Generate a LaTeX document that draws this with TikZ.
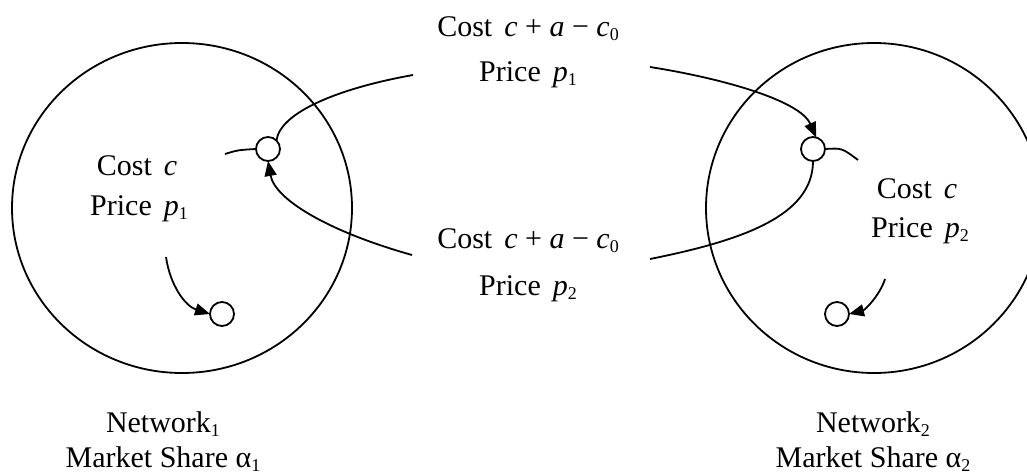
\documentclass[tikz,border=0pt]{standalone}
\usepackage{fontspec}
\setmainfont{Liberation Serif}
\usetikzlibrary{arrows.meta,shapes.geometric}
\newcommand{\lowsub}[1]{\raisebox{-4pt}{\fontsize{18}{18}\selectfont #1}}
\newcommand{\gap}{\hspace{0.4em}}
\begin{document}
\begin{tikzpicture}[x=1pt,y=-1pt,
  lbl/.style={anchor=base,inner sep=0pt,font=\fontsize{30}{36}\selectfont},
  net/.style={draw,ellipse,inner sep=0pt,line width=1.8pt},
  dot/.style={draw,circle,fill=white,minimum size=24pt,inner sep=0pt,outer sep=0pt,line width=1.8pt},
  link/.style={line width=1.8pt},
  arr/.style={line width=1.8pt,-{Triangle[length=15pt,width=12pt]}}]
\useasboundingbox (0,0) rectangle (1027,476);
% networks
\node[net,minimum width=340pt,minimum height=330pt] (n1) at (182,208) {};
\node[net,minimum width=336pt,minimum height=330pt] (n2) at (874,208) {};
% small circles
\node[dot] (lc1) at (268,149) {};
\node[dot] (lc2) at (222,314) {};
\node[dot] (rc1) at (813,149) {};
\node[dot] (rc2) at (837,314) {};
% labels
\node[lbl] (lcost) at (137,175) {Cost\gap\textit{c}};
\node[lbl] (lprice) at (139,215) {Price\gap\textit{p}\lowsub{1}};
\node[lbl] (m1cost) at (528,37) {Cost\gap\textit{c} + \textit{a} − \textit{c}\lowsub{0}};
\node[lbl] (m1price) at (528,82) {Price\gap\textit{p}\lowsub{1}};
\node[lbl] (m2cost) at (528,248) {Cost\gap\textit{c} + \textit{a} − \textit{c}\lowsub{0}};
\node[lbl] (m2price) at (528,295) {Price\gap\textit{p}\lowsub{2}};
\node[lbl] (rcost) at (917,198) {Cost\gap\textit{c}};
\node[lbl] (rprice) at (920,237) {Price\gap\textit{p}\lowsub{2}};
\node[lbl] (lnet) at (163,432) {Network\lowsub{1}};
\node[lbl] (lshare) at (163,467) {Market Share α\lowsub{1}};
\node[lbl] (rnet) at (873,432) {Network\lowsub{2}};
\node[lbl] (rshare) at (873,467) {Market Share α\lowsub{2}};
% free ends
\coordinate (tl) at (413,75);
\coordinate (bl) at (412,255);
\coordinate (tr) at (650,67);
\coordinate (br) at (650,259);
\coordinate (ls) at (225,154);
\coordinate (rs) at (858,160);
\coordinate (la) at (166,257);
\coordinate (ra) at (885,279);
% connectors
\draw[link] (tl) .. controls (340,88) and (280,112) .. (lc1.45);
\draw[link] (ls) .. controls (238,150) .. (lc1.west);
\draw[arr] (bl) .. controls (330,232) and (275,200) .. (lc1.south);
\draw[arr] (tr) .. controls (720,78) and (800,100) .. (rc1.75);
\draw[link] (rc1.east) .. controls (842,148) .. (rs);
\draw[link] (rc1.south) .. controls (813,215) and (745,240) .. (br);
\draw[arr] (la) .. controls (170,285) and (185,306) .. (lc2.west);
\draw[arr] (ra) .. controls (880,295) and (865,310) .. (rc2.east);
\end{tikzpicture}
\end{document}
